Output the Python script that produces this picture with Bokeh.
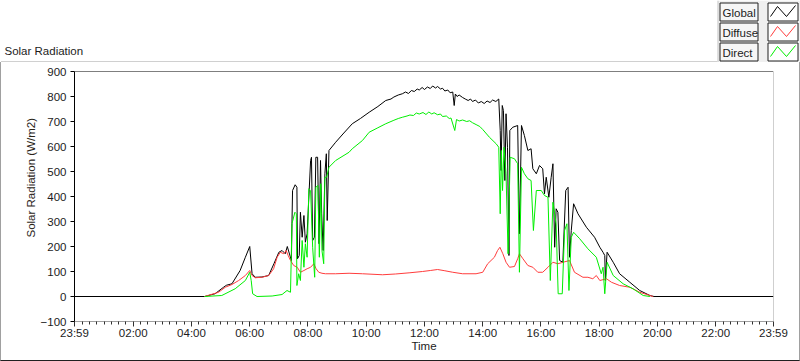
from bokeh.plotting import figure
from bokeh.layouts import column
from bokeh.models import Range1d, FixedTicker, Span, Title
from bokeh.core.properties import value
from bokeh.embed import file_html
from bokeh.resources import INLINE

# ---------------- data: (hour of day, W/m2) ----------------
global_pts = [
    (-0.017, 0), (4.45, 0), (4.81, 11), (5.10, 37), (5.20, 45), (5.39, 51), (5.67, 104),
    (5.85, 157), (6.00, 200), (6.08, 91), (6.19, 77), (6.42, 78), (6.65, 84), (6.83, 131),
    (7.00, 177), (7.11, 184), (7.22, 171), (7.29, 200), (7.43, 144), (7.45, 291), (7.47, 424),
    (7.56, 447), (7.62, 437), (7.64, 151), (7.70, 164), (7.74, 337), (7.80, 237), (7.86, 324),
    (7.91, 217), (7.97, 251), (8.09, 544), (8.12, 557), (8.16, 224), (8.22, 237), (8.27, 557),
    (8.33, 557), (8.38, 211), (8.43, 544), (8.47, 331), (8.52, 184), (8.58, 491), (8.63, 571),
    (8.66, 304), (8.72, 584), (8.95, 617), (9.20, 650), (9.52, 691), (9.80, 712), (10.10, 737),
    (10.40, 760), (10.67, 784), (10.85, 790), (10.95, 798), (11.10, 806), (11.24, 811),
    (11.35, 818), (11.45, 812), (11.55, 824), (11.65, 820), (11.75, 830), (11.82, 826),
    (11.92, 836), (12.00, 828), (12.10, 838), (12.20, 832), (12.28, 842), (12.38, 834),
    (12.45, 840), (12.55, 830), (12.62, 833), (12.70, 822), (12.80, 826), (12.88, 815),
    (12.97, 818), (13.02, 764), (13.06, 810), (13.12, 800), (13.19, 806), (13.31, 796),
    (13.40, 790), (13.50, 784), (13.58, 790), (13.65, 780), (13.75, 786), (13.85, 774),
    (13.95, 780), (14.05, 772), (14.15, 782), (14.25, 776), (14.34, 786), (14.45, 780),
    (14.55, 790), (14.60, 664), (14.63, 504), (14.67, 764), (14.71, 744), (14.76, 464),
    (14.80, 731), (14.85, 597), (14.90, 164), (14.93, 664), (15.03, 677), (15.20, 684),
    (15.26, 251), (15.33, 684), (15.43, 644), (15.55, 584), (15.66, 591), (15.72, 511),
    (15.84, 491), (15.95, 524), (16.06, 511), (16.12, 411), (16.18, 477), (16.27, 397),
    (16.35, 477), (16.41, 531), (16.47, 197), (16.52, 351), (16.58, 337), (16.64, 144),
    (16.75, 137), (16.85, 424), (16.93, 437), (16.98, 157), (17.04, 264), (17.12, 371),
    (17.27, 331), (17.56, 277), (17.84, 237), (18.02, 197), (18.13, 177), (18.19, 164),
    (18.21, 64), (18.27, 177), (18.48, 137), (18.70, 91), (19.05, 57), (19.39, 24),
    (19.74, 4), (19.88, 0), (23.983, 0)]

diffuse_pts = [
    (4.45, 0), (4.93, 17), (5.16, 37), (5.39, 48), (5.62, 64), (5.85, 84), (6.00, 104),
    (6.08, 84), (6.19, 75), (6.42, 77), (6.65, 84), (6.82, 111), (6.94, 157), (7.05, 177),
    (7.17, 171), (7.25, 184), (7.32, 164), (7.40, 144), (7.51, 124), (7.63, 117), (7.74, 97),
    (7.86, 104), (7.97, 111), (8.09, 117), (8.20, 131), (8.28, 111), (8.37, 97), (8.48, 93),
    (8.60, 91), (8.95, 91), (9.41, 93), (9.87, 91), (10.56, 87), (11.00, 90), (11.50, 95),
    (11.93, 100), (12.20, 104), (12.45, 108), (12.70, 103), (12.97, 97), (13.31, 91),
    (13.77, 91), (14.00, 97), (14.17, 131), (14.40, 157), (14.51, 184), (14.59, 197),
    (14.69, 171), (14.80, 137), (14.92, 117), (15.09, 120), (15.20, 151), (15.26, 171),
    (15.38, 151), (15.55, 124), (15.72, 117), (15.89, 97), (16.06, 97), (16.24, 117),
    (16.41, 137), (16.58, 131), (16.76, 137), (16.98, 144), (17.15, 97), (17.44, 77),
    (17.61, 77), (17.78, 71), (17.90, 84), (18.02, 64), (18.25, 71), (18.42, 57), (18.70, 44),
    (19.05, 37), (19.39, 17), (19.74, 4), (19.85, 0)]

direct_pts = [
    (4.45, 0), (5.04, 4), (5.50, 31), (5.85, 64), (6.00, 97), (6.05, 64), (6.10, 11),
    (6.25, 0), (6.77, 2), (7.11, 8), (7.28, 24), (7.40, 17), (7.45, 291), (7.55, 337),
    (7.60, 331), (7.62, 44), (7.68, 91), (7.74, 64), (7.80, 224), (7.86, 117), (7.91, 211),
    (7.97, 157), (8.03, 431), (8.09, 424), (8.16, 197), (8.23, 77), (8.27, 437), (8.34, 444),
    (8.39, 157), (8.44, 451), (8.48, 184), (8.54, 131), (8.58, 477), (8.64, 477), (8.72, 517),
    (8.95, 544), (9.41, 577), (9.52, 591), (9.87, 624), (10.10, 657), (10.40, 675),
    (10.67, 691), (10.85, 700), (10.95, 705), (11.10, 712), (11.24, 717), (11.40, 722),
    (11.50, 726), (11.62, 724), (11.72, 734), (11.82, 730), (11.95, 736), (12.05, 728),
    (12.15, 738), (12.25, 730), (12.33, 735), (12.45, 727), (12.55, 730), (12.62, 720),
    (12.75, 722), (12.85, 712), (12.91, 714), (13.04, 664), (13.10, 708), (13.19, 702),
    (13.31, 706), (13.45, 700), (13.55, 703), (13.65, 695), (13.80, 686), (13.90, 680),
    (14.00, 668), (14.23, 637), (14.46, 611), (14.55, 597), (14.60, 331), (14.64, 584),
    (14.68, 424), (14.73, 597), (14.80, 491), (14.87, 171), (14.94, 557), (15.09, 551),
    (15.20, 531), (15.26, 97), (15.33, 517), (15.43, 491), (15.55, 471), (15.66, 464),
    (15.74, 264), (15.84, 424), (16.01, 424), (16.12, 404), (16.24, 397), (16.32, 64),
    (16.41, 377), (16.52, 291), (16.59, 11), (16.73, 11), (16.81, 264), (16.89, 291),
    (16.96, 24), (17.04, 237), (17.12, 257), (17.33, 231), (17.61, 191), (17.90, 157),
    (18.07, 91), (18.13, 117), (18.19, 11), (18.27, 137), (18.48, 84), (18.82, 51),
    (19.16, 31), (19.51, 4), (19.74, 0)]

global_t = [t for t, _ in global_pts]
global_v = [v for _, v in global_pts]
diffuse_t = [t for t, _ in diffuse_pts]
diffuse_v = [v for _, v in diffuse_pts]
direct_t = [t for t, _ in direct_pts]
direct_v = [v for _, v in direct_pts]

series_names = ["Global", "Diffuse", "Direct"]
series_colors = ["#000000", "#ff3c3c", "#00ee00"]

x_tick_minutes = [-1, 120, 240, 360, 480, 600, 720, 840, 960, 1080, 1200, 1320, 1439]
x_tick_labels = ["23:59", "02:00", "04:00", "06:00", "08:00", "10:00", "12:00",
                 "14:00", "16:00", "18:00", "20:00", "22:00", "23:59"]
x_minor_minutes = [m for m in range(15, 1439, 15) if m % 120 != 0]
y_ticks = [-100, 0, 100, 200, 300, 400, 500, 600, 700, 800, 900]

FONT = "Liberation Sans"
FS = "11.5px"
TXT = "#1c1c1c"
W = 800
HEAD_H = 62
MAIN_H = 361 - HEAD_H

# ---------------- header: title, panel edge and legend ----------------
hd = figure(width=W, height=HEAD_H, output_backend="svg", toolbar_location=None,
            x_range=Range1d(0, W), y_range=Range1d(HEAD_H, 0),
            x_axis_location=None, y_axis_location=None,
            min_border=0, min_border_left=0, min_border_right=0,
            min_border_top=0, min_border_bottom=0,
            background_fill_color="white", border_fill_color="white")
hd.outline_line_color = None
hd.grid.visible = False
hd.frame_align = False

hd.text(x=[4], y=[50], text=["Solar Radiation"], text_baseline="middle", text_align="left",
        text_font=value(FONT), text_font_size=FS, text_color=TXT)
hd.line([0.5, 717], [61.5, 61.5], line_color="#a0a0a0", line_width=1)

hd.quad(left=[717], right=[800], top=[0], bottom=[62], fill_color="#f0f0f0",
        line_color=None)
hd.line([717.5, 717.5], [0, 62], line_color="#c8c8c8", line_width=1)
row_tops = [2, 22, 42]
for r0, name, col in zip(row_tops, series_names, series_colors):
    hd.quad(left=[719.5], right=[757.5], top=[r0 + 0.5], bottom=[r0 + 18.5],
            fill_color="#f6f6f6", line_color="#202020", line_width=1)
    hd.quad(left=[767.5], right=[797.5], top=[r0 + 0.5], bottom=[r0 + 18.5],
            fill_color="#ffffff", line_color="#202020", line_width=1)
    hd.text(x=[722], y=[r0 + 10], text=[name], text_baseline="middle", text_align="left",
            text_font=value(FONT), text_font_size=FS, text_color=TXT)
    hd.line([770, 777, 786, 795], [r0 + 14, r0 + 4, r0 + 14, r0 + 3],
            line_color=col, line_width=1)

# ---------------- main chart ----------------
p = figure(width=W, height=MAIN_H, output_backend="svg", toolbar_location=None,
           x_range=Range1d(-1, 1439), y_range=Range1d(-100, 900),
           min_border_left=73, min_border_right=W - 772, min_border_top=9,
           min_border_bottom=40, background_fill_color="white",
           border_fill_color="white")
p.outline_line_color = None
p.grid.visible = False
p.frame_align = False

for t, v, c in zip([global_t, diffuse_t, direct_t], [global_v, diffuse_v, direct_v], series_colors):
    p.line([h * 60 for h in t], v, line_color=c, line_width=1)

xa = p.xaxis[0]
xa.ticker = FixedTicker(ticks=x_tick_minutes, minor_ticks=x_minor_minutes)
xa.major_label_overrides = dict(zip(x_tick_minutes, x_tick_labels))
xa.axis_line_color = "#a0a0a0"
xa.major_tick_line_color = "#303030"
xa.minor_tick_line_color = "#303030"
xa.major_tick_out, xa.major_tick_in = 5, 0
xa.minor_tick_out, xa.minor_tick_in = 3, 0
xa.major_label_standoff = 0
xa.major_label_text_font = FONT
xa.major_label_text_font_size = FS
xa.major_label_text_color = TXT
xa.axis_label = "Time"
xa.axis_label_standoff = -2
xa.axis_label_text_font = FONT
xa.axis_label_text_font_size = FS
xa.axis_label_text_font_style = "normal"
xa.axis_label_text_color = TXT

ya = p.yaxis[0]
ya.ticker = FixedTicker(ticks=y_ticks, minor_ticks=[])
ya.axis_line_color = "#000000"
ya.major_tick_line_color = "#000000"
ya.major_tick_out, ya.major_tick_in = 4, 0
ya.minor_tick_out, ya.minor_tick_in = 0, 0
ya.major_label_standoff = 4
ya.major_label_text_font = FONT
ya.major_label_text_font_size = FS
ya.major_label_text_color = TXT

p.add_layout(Title(text="Solar Radiation (W/m2)", align="left", offset=84, standoff=2,
                   text_font=FONT, text_font_size=FS, text_font_style="normal",
                   text_color="#2a2418"), "left")

p.add_layout(Span(location=900, dimension="width", line_color="#000000", line_width=1))
p.add_layout(Span(location=1439, dimension="height", line_color="#a0a0a0", line_width=1))

p.styles = {"border-left": "1px solid #a0a0a0", "border-right": "1px solid #a0a0a0",
            "border-bottom": "1px solid #202020", "box-sizing": "border-box"}

layout = column(hd, p, spacing=0)
open("out.html", "w").write(file_html(layout, INLINE))
